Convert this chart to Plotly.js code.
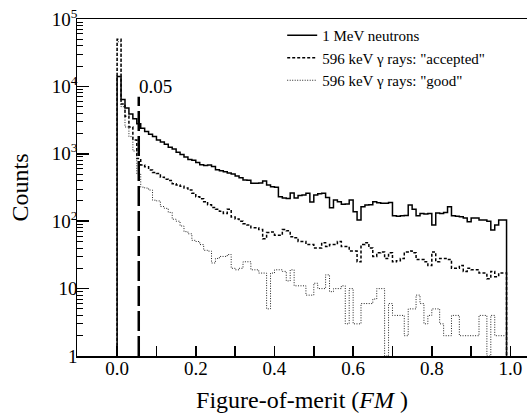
<!DOCTYPE html>
<html><head><meta charset="utf-8">
<script src="https://cdn.plot.ly/plotly-3.0.1.min.js"></script>
<style>html,body{margin:0;padding:0;overflow:hidden;background:#fff}
#chart svg text{font-family:"Liberation Serif",serif !important;}</style>
</head><body><div id="chart" style="width:527px;height:416px"></div>
<script>
// Histogram binning (FM from 0 to 0.99 in steps of 0.01)
const binStart = 0.0;
const binWidth = 0.01;

// Counts per bin
const neutrons = [14000,6400,4800,3900,3300,2800,2400,2150,1950,1800,
  1600,1500,1380,1250,1180,1050,980,900,820,800,
  740,690,670,680,650,580,560,540,520,500,
  470,440,410,405,365,365,370,395,345,325,
  320,230,220,218,263,220,240,245,260,192,
  245,255,260,224,158,207,195,178,180,207,
  138,104,164,174,176,195,188,184,184,190,
  120,118,120,122,174,150,120,130,128,130,
  88,132,130,135,164,120,118,116,112,98,
  112,112,104,104,100,74,88,104,104];
const gammaAccepted = [50000,5500,3600,2500,1600,850,680,640,575,530,
  510,450,420,400,360,345,330,310,290,260,
  230,215,195,175,160,150,140,130,150,115,
  108,100,92,88,80,80,75,55,68,69,
  62,62,75,72,59,57,50,50,45,45,
  40,40,48,42,45,45,50,42,42,36,
  36,25,45,48,40,30,34,35,28,34,
  25,26,28,35,36,34,27,27,25,22,
  35,25,28,28,27,20,20,22,18,20,
  19,19,17,17,14,18,15,17,17];
const gammaGood = [46000,5000,2500,1800,1100,500,320,310,290,205,
  200,165,155,135,107,100,85,70,65,52,
  50,45,37,36,24,28,30,30,32,20,
  19,20,25,25,19,19,17,17,5,17,
  19,19,18,13,19,11,11,11,8,8,
  12,10,10,16,9,10,10,11,3,10,
  3,3,6,6,6,7,10,10,0,6,
  4,4,4,2,5,5,8,6,3,4,
  5,5,3,2,2,4,4,2,2,2,
  2,2,4,4,0,4,2,2,2];

const seriesNames = ['1 MeV neutrons', '596 keV \u03b3 rays: "accepted"', '596 keV \u03b3 rays: "good"'];
const cutValue = [0.055];
const cutLabel = ['0.05'];
const cutTop = [7000];
const yFloor = 1; // bottom of the log axis

function stepXY(counts) {
  const x = [binStart], y = [yFloor];
  counts.forEach((c, i) => { x.push(binStart + i * binWidth); y.push(Math.max(c, yFloor)); });
  const end = binStart + counts.length * binWidth;
  x.push(end); y.push(Math.max(counts[counts.length - 1], yFloor));
  x.push(end); y.push(yFloor);
  return {x, y};
}

const FONT = 'Liberation Serif';
const n = stepXY(neutrons), a = stepXY(gammaAccepted), g = stepXY(gammaGood);

const traces = [
  {x: n.x, y: n.y, name: seriesNames[0], type: 'scatter', mode: 'lines',
   line: {shape: 'hv', color: '#000', width: 1.5}},
  {x: a.x, y: a.y, name: seriesNames[1], type: 'scatter', mode: 'lines',
   line: {shape: 'hv', color: '#000', width: 1.5, dash: '3px,2px'}},
  {x: g.x, y: g.y, name: seriesNames[2], type: 'scatter', mode: 'lines',
   line: {shape: 'hv', color: '#222', width: 1, dash: '1px,1.5px'}},
  {x: [cutValue[0], cutValue[0]], y: [yFloor, cutTop[0]], type: 'scatter', mode: 'lines',
   showlegend: false, hoverinfo: 'skip',
   line: {color: '#000', width: 2.5, dash: '20px,5px'}}
];

const layout = {
  width: 527, height: 416,
  margin: {l: 77, r: 0, t: 19, b: 60},
  paper_bgcolor: '#fff', plot_bgcolor: '#fff',
  font: {family: FONT, color: '#000'},
  showlegend: true,
  legend: {x: 0.456, xanchor: 'left', y: 1.0, yanchor: 'top',
    bgcolor: 'rgba(0,0,0,0)', font: {family: FONT, size: 15, color: '#000'},
    tracegroupgap: 0},
  xaxis: {range: [-0.102, 1.042], tick0: 0, dtick: 0.2, tickformat: '.1f',
    ticks: 'inside', ticklen: 10, tickwidth: 1.5, tickcolor: '#000',
    minor: {dtick: 0.1, tick0: 0, ticks: 'inside', ticklen: 10, tickwidth: 1.5, tickcolor: '#000'},
    showline: true, linewidth: 1.5, linecolor: '#000', mirror: true,
    showgrid: false, zeroline: false, ticklabelstandoff: -5,
    tickfont: {family: FONT, size: 19, color: '#000'},
    title: {text: 'Figure-of-merit (<i>FM</i> )', font: {family: FONT, size: 24, color: '#000'}, standoff: 13}},
  yaxis: {type: 'log', range: [0, 5], dtick: 1, exponentformat: 'power',
    ticks: 'inside', ticklen: 12, tickwidth: 1.5, tickcolor: '#000',
    minor: {dtick: 'D1', ticks: 'inside', ticklen: 6, tickwidth: 1, tickcolor: '#000'},
    showline: true, linewidth: 1.5, linecolor: '#000',
    showgrid: false, zeroline: false, ticklabelstandoff: -5,
    tickfont: {family: FONT, size: 15.2, color: '#000'},
    title: {text: 'Counts', font: {family: FONT, size: 24, color: '#000'}, standoff: 16}},
  annotations: [{x: cutValue[0], y: 4, xref: 'x', yref: 'y', text: cutLabel[0],
    showarrow: false, xanchor: 'left', yanchor: 'middle', xshift: -2,
    font: {family: FONT, size: 19, color: '#000'}}]
};

Plotly.newPlot('chart', traces, layout, {displayModeBar: false, staticPlot: true});
</script></body></html>
